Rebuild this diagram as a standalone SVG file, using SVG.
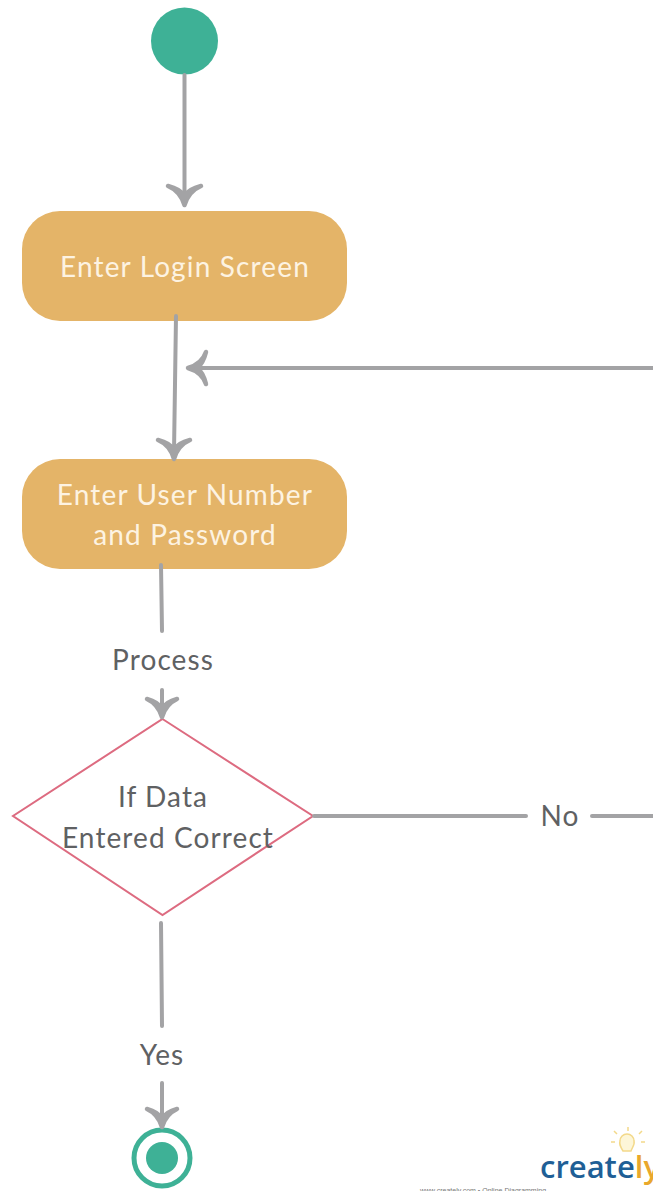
<svg xmlns="http://www.w3.org/2000/svg" width="653" height="1191" viewBox="0 0 653 1191">
<style>
.c{fill:none;stroke:#a3a3a5;stroke-width:4;stroke-linecap:round;stroke-linejoin:round}
.h{fill:#a3a3a5;stroke:#a3a3a5;stroke-width:4.500;stroke-linecap:round;stroke-linejoin:round}
.box{fill:#e4b468}
.w{font-family:Lato,"Open Sans",sans-serif;font-size:28px;letter-spacing:1.150px;fill:#fdf3e2;text-anchor:middle}
.d{font-family:Lato,"Open Sans",sans-serif;font-size:28px;letter-spacing:1.100px;fill:#5f6163;text-anchor:middle}
</style>
<rect width="653" height="1191" fill="#fff"/>
<g id="start"><circle cx="184.500" cy="41" r="33.500" fill="#3eb196"/></g>
<g id="login"><rect class="box" x="22" y="211" width="325" height="110" rx="38"/>
<text class="w" x="185" y="277">Enter Login Screen</text></g>
<g id="credentials"><rect class="box" x="22" y="459" width="325" height="110" rx="38"/>
<text class="w" x="185" y="505">Enter User Number</text>
<text class="w" x="185" y="545">and Password</text></g>
<g id="process-label"><text class="d" x="163" y="670">Process</text></g>
<g id="decision"><polygon points="162.500,719 313,816 162.500,915 13,816" fill="#fff" stroke="#dd6b80" stroke-width="2"/>
<text class="d" x="163" y="807">If Data</text>
<text class="d" x="168" y="848">Entered Correct</text></g>
<g id="no-label"><text class="d" x="560" y="826">No</text></g>
<g id="yes-label"><text class="d" x="162" y="1065">Yes</text></g>
<g id="end"><circle cx="162" cy="1158" r="28" fill="#fff" stroke="#3eb196" stroke-width="5"/>
<circle cx="162" cy="1158" r="16" fill="#3eb196"/></g>
<g id="connectors">
<path class="c" d="M184.500 75V200"/>
<path class="h" d="M168 186Q180 191 184.500 205Q189 191 201 186Q189 189 184.500 196Q180 189 168 186Z"/>
<path class="c" d="M176 316L174 452"/>
<path class="h" d="M158 440Q170 445 174 459Q178 445 190 440Q178 443 174 450Q170 443 158 440Z"/>
<path class="c" d="M653 368H195"/>
<path class="h" d="M206 352Q202 364 188 368Q202 372 206 384Q203 372 197 368Q203 364 206 352Z"/>
<path class="c" d="M161 565L162 631"/>
<path class="c" d="M162 690V712"/>
<path class="h" d="M147 699Q158 704 162 717Q166 704 177 699Q166 702 162 709Q158 702 147 699Z"/>
<path class="c" d="M314 816H526"/>
<path class="c" d="M592 816H653"/>
<path class="c" d="M161 923L162 1026"/>
<path class="c" d="M162 1083V1122"/>
<path class="h" d="M147 1109Q158 1114 162 1127Q166 1114 177 1109Q166 1112 162 1119Q158 1112 147 1109Z"/>
</g>
<g id="logo">
<g fill="none" stroke="#f3d98a" stroke-width="1.500">
<path d="M623 1151C620 1146 619 1144 620 1141A7 7 0 0 1 634 1141C635 1144 633 1146 631 1151Z" fill="#fdf6d8"/>
<path d="M628 1131V1127M617 1134L614 1131M639 1134L642 1131M615 1142H611M641 1142H645"/>
</g>
<text x="540" y="1178" font-family="'Open Sans',Lato,sans-serif" font-size="31px" font-weight="600" fill="#1f5f96">create<tspan fill="#e9a82c">ly</tspan></text>
<text x="420" y="1193" font-family="'Liberation Sans',sans-serif" font-size="7px" fill="#777">www.creately.com • Online Diagramming</text>
</g>
</svg>
